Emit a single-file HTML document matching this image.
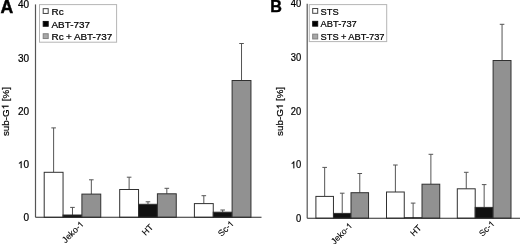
<!DOCTYPE html>
<html><head><meta charset="utf-8"><style>
html,body{margin:0;padding:0;background:#fff;}
body{width:520px;height:244px;overflow:hidden;}
text{stroke:#000;}
svg{display:block;font-family:"Liberation Sans", sans-serif;filter:grayscale(1) blur(0.35px);}
</style></head><body>
<svg width="520" height="244" viewBox="0 0 520 244">
<rect width="520" height="244" fill="#fff"/>
<text transform="translate(0.4,12.5) scale(1.0,1)" font-size="17.6" font-weight="bold" fill="#000" style="stroke-width:0.45px">A</text>
<g transform="translate(29.00,221.30)"><text x="0" y="0" font-size="10.0" text-anchor="end" fill="#000" style="stroke-width:0.22px">0</text></g>
<g transform="translate(29.00,168.08)"><text x="0" y="0" font-size="10.0" text-anchor="end" fill="#000" style="stroke-width:0.22px"><tspan style="fill:none;stroke:none">1</tspan>0</text><path d="M763 0H583V1098Q518 1039 418 980Q312 918 223 891V1058Q374 1126 486 1221Q597 1316 647 1409H763Z" transform="translate(-11.123,0) scale(0.004883,-0.004883)" fill="#000" stroke="#000" stroke-width="45.1"/></g>
<g transform="translate(29.00,114.85)"><text x="0" y="0" font-size="10.0" text-anchor="end" fill="#000" style="stroke-width:0.22px">20</text></g>
<g transform="translate(29.00,61.63)"><text x="0" y="0" font-size="10.0" text-anchor="end" fill="#000" style="stroke-width:0.22px">30</text></g>
<g transform="translate(29.00,8.40)"><text x="0" y="0" font-size="10.0" text-anchor="end" fill="#000" style="stroke-width:0.22px">40</text></g>
<g transform="translate(8.50,111.60) rotate(-90)"><text x="0" y="0" font-size="9.8" text-anchor="middle" fill="#000" style="stroke-width:0.22px">sub-G<tspan style="fill:none;stroke:none">1</tspan> [%]</text><path d="M763 0H583V1098Q518 1039 418 980Q312 918 223 891V1058Q374 1126 486 1221Q597 1316 647 1409H763Z" transform="translate(2.177,0) scale(0.004785,-0.004785)" fill="#000" stroke="#000" stroke-width="46.0"/></g>
<line x1="53.62" y1="127.90" x2="53.62" y2="172.30" stroke="#555555" stroke-width="1"/>
<line x1="51.33" y1="127.90" x2="55.92" y2="127.90" stroke="#555555" stroke-width="1"/>
<rect x="44.20" y="172.30" width="18.85" height="45.00" fill="#ffffff" stroke="#303030" stroke-width="1"/>
<line x1="72.48" y1="207.40" x2="72.48" y2="215.00" stroke="#555555" stroke-width="1"/>
<line x1="70.18" y1="207.40" x2="74.78" y2="207.40" stroke="#555555" stroke-width="1"/>
<rect x="63.05" y="215.00" width="18.85" height="2.30" fill="#111111" stroke="#303030" stroke-width="1"/>
<line x1="91.33" y1="179.80" x2="91.33" y2="194.10" stroke="#555555" stroke-width="1"/>
<line x1="89.03" y1="179.80" x2="93.62" y2="179.80" stroke="#555555" stroke-width="1"/>
<rect x="81.90" y="194.10" width="18.85" height="23.20" fill="#919191" stroke="#303030" stroke-width="1"/>
<line x1="129.12" y1="177.20" x2="129.12" y2="189.50" stroke="#555555" stroke-width="1"/>
<line x1="126.83" y1="177.20" x2="131.43" y2="177.20" stroke="#555555" stroke-width="1"/>
<rect x="119.70" y="189.50" width="18.85" height="27.80" fill="#ffffff" stroke="#303030" stroke-width="1"/>
<line x1="147.98" y1="201.80" x2="147.98" y2="204.30" stroke="#555555" stroke-width="1"/>
<line x1="145.68" y1="201.80" x2="150.28" y2="201.80" stroke="#555555" stroke-width="1"/>
<rect x="138.55" y="204.30" width="18.85" height="13.00" fill="#111111" stroke="#303030" stroke-width="1"/>
<line x1="166.82" y1="188.30" x2="166.82" y2="193.80" stroke="#555555" stroke-width="1"/>
<line x1="164.52" y1="188.30" x2="169.12" y2="188.30" stroke="#555555" stroke-width="1"/>
<rect x="157.40" y="193.80" width="18.85" height="23.50" fill="#919191" stroke="#303030" stroke-width="1"/>
<line x1="203.82" y1="195.70" x2="203.82" y2="203.60" stroke="#555555" stroke-width="1"/>
<line x1="201.52" y1="195.70" x2="206.12" y2="195.70" stroke="#555555" stroke-width="1"/>
<rect x="194.40" y="203.60" width="18.85" height="13.70" fill="#ffffff" stroke="#303030" stroke-width="1"/>
<line x1="222.68" y1="210.00" x2="222.68" y2="212.20" stroke="#555555" stroke-width="1"/>
<line x1="220.38" y1="210.00" x2="224.98" y2="210.00" stroke="#555555" stroke-width="1"/>
<rect x="213.25" y="212.20" width="18.85" height="5.10" fill="#111111" stroke="#303030" stroke-width="1"/>
<line x1="241.53" y1="43.50" x2="241.53" y2="80.50" stroke="#555555" stroke-width="1"/>
<line x1="239.23" y1="43.50" x2="243.83" y2="43.50" stroke="#555555" stroke-width="1"/>
<rect x="232.10" y="80.50" width="18.85" height="136.80" fill="#919191" stroke="#303030" stroke-width="1"/>
<line x1="35.5" y1="4.4" x2="35.5" y2="217.3" stroke="#555555" stroke-width="1.2"/>
<line x1="35.5" y1="217.3" x2="261.5" y2="217.3" stroke="#2a2a2a" stroke-width="1.05"/>
<rect x="39.5" y="4.6" width="77.10" height="37.60" fill="#fff" stroke="#b5b5b5" stroke-width="1"/>
<rect x="43.20" y="8.65" width="5.0" height="4.8" fill="#ffffff" stroke="#444" stroke-width="1"/>
<g transform="translate(51.50,14.75)"><text x="0" y="0" font-size="9.9" text-anchor="start" fill="#000" style="stroke-width:0.22px">Rc</text></g>
<rect x="43.20" y="21.45" width="5.0" height="4.8" fill="#000000" stroke="#111" stroke-width="1"/>
<g transform="translate(51.50,27.55)"><text x="0" y="0" font-size="9.9" text-anchor="start" fill="#000" style="stroke-width:0.22px">ABT-737</text></g>
<rect x="43.20" y="33.75" width="5.0" height="4.8" fill="#a8a8a8" stroke="#808080" stroke-width="1"/>
<g transform="translate(51.50,39.85)"><text x="0" y="0" font-size="9.9" text-anchor="start" fill="#000" style="stroke-width:0.22px" word-spacing="-0.2">Rc + ABT-737</text></g>
<g transform="translate(84.20,224.80) rotate(-45)"><text x="0" y="0" font-size="8.8" text-anchor="end" fill="#000" style="stroke-width:0.12px">Jeko-<tspan style="fill:none;stroke:none">1</tspan></text><path d="M763 0H583V1098Q518 1039 418 980Q312 918 223 891V1058Q374 1126 486 1221Q597 1316 647 1409H763Z" transform="translate(-4.894,0) scale(0.004297,-0.004297)" fill="#000" stroke="#000" stroke-width="27.9"/></g>
<g transform="translate(153.70,227.80) rotate(-45)"><text x="0" y="0" font-size="8.8" text-anchor="end" fill="#000" style="stroke-width:0.12px">HT</text></g>
<g transform="translate(234.30,224.30) rotate(-45)"><text x="0" y="0" font-size="8.8" text-anchor="end" fill="#000" style="stroke-width:0.12px">Sc-<tspan style="fill:none;stroke:none">1</tspan></text><path d="M763 0H583V1098Q518 1039 418 980Q312 918 223 891V1058Q374 1126 486 1221Q597 1316 647 1409H763Z" transform="translate(-4.894,0) scale(0.004297,-0.004297)" fill="#000" stroke="#000" stroke-width="27.9"/></g>
<text transform="translate(270.2,12.0) scale(0.94,1)" font-size="17.2" font-weight="bold" fill="#000" style="stroke-width:0.45px">B</text>
<g transform="translate(301.20,221.85) scale(0.94,1)"><text x="0" y="0" font-size="10.0" text-anchor="end" fill="#000" style="stroke-width:0.22px">0</text></g>
<g transform="translate(301.20,168.25) scale(0.94,1)"><text x="0" y="0" font-size="10.0" text-anchor="end" fill="#000" style="stroke-width:0.22px"><tspan style="fill:none;stroke:none">1</tspan>0</text><path d="M763 0H583V1098Q518 1039 418 980Q312 918 223 891V1058Q374 1126 486 1221Q597 1316 647 1409H763Z" transform="translate(-11.123,0) scale(0.004883,-0.004883)" fill="#000" stroke="#000" stroke-width="45.1"/></g>
<g transform="translate(301.20,114.65) scale(0.94,1)"><text x="0" y="0" font-size="10.0" text-anchor="end" fill="#000" style="stroke-width:0.22px">20</text></g>
<g transform="translate(301.20,61.05) scale(0.94,1)"><text x="0" y="0" font-size="10.0" text-anchor="end" fill="#000" style="stroke-width:0.22px">30</text></g>
<g transform="translate(301.20,7.45) scale(0.94,1)"><text x="0" y="0" font-size="10.0" text-anchor="end" fill="#000" style="stroke-width:0.22px">40</text></g>
<g transform="translate(282.90,111.40) scale(0.94,1) rotate(-90)"><text x="0" y="0" font-size="9.8" text-anchor="middle" fill="#000" style="stroke-width:0.22px">sub-G<tspan style="fill:none;stroke:none">1</tspan> [%]</text><path d="M763 0H583V1098Q518 1039 418 980Q312 918 223 891V1058Q374 1126 486 1221Q597 1316 647 1409H763Z" transform="translate(2.177,0) scale(0.004785,-0.004785)" fill="#000" stroke="#000" stroke-width="46.0"/></g>
<line x1="324.67" y1="167.40" x2="324.67" y2="196.40" stroke="#555555" stroke-width="1"/>
<line x1="322.37" y1="167.40" x2="326.97" y2="167.40" stroke="#555555" stroke-width="1"/>
<rect x="315.90" y="196.40" width="17.55" height="21.80" fill="#ffffff" stroke="#303030" stroke-width="1"/>
<line x1="342.23" y1="193.20" x2="342.23" y2="213.40" stroke="#555555" stroke-width="1"/>
<line x1="339.93" y1="193.20" x2="344.53" y2="193.20" stroke="#555555" stroke-width="1"/>
<rect x="333.45" y="213.40" width="17.55" height="4.80" fill="#111111" stroke="#303030" stroke-width="1"/>
<line x1="359.77" y1="173.50" x2="359.77" y2="192.70" stroke="#555555" stroke-width="1"/>
<line x1="357.47" y1="173.50" x2="362.07" y2="173.50" stroke="#555555" stroke-width="1"/>
<rect x="351.00" y="192.70" width="17.55" height="25.50" fill="#919191" stroke="#303030" stroke-width="1"/>
<line x1="395.38" y1="165.00" x2="395.38" y2="192.00" stroke="#555555" stroke-width="1"/>
<line x1="393.07" y1="165.00" x2="397.68" y2="165.00" stroke="#555555" stroke-width="1"/>
<rect x="386.50" y="192.00" width="17.75" height="26.20" fill="#ffffff" stroke="#303030" stroke-width="1"/>
<line x1="413.12" y1="203.10" x2="413.12" y2="218.20" stroke="#555555" stroke-width="1"/>
<line x1="410.82" y1="203.10" x2="415.43" y2="203.10" stroke="#555555" stroke-width="1"/>
<line x1="404.25" y1="217.90" x2="422.00" y2="217.90" stroke="#000" stroke-width="1.2"/>
<line x1="430.88" y1="154.30" x2="430.88" y2="184.20" stroke="#555555" stroke-width="1"/>
<line x1="428.57" y1="154.30" x2="433.18" y2="154.30" stroke="#555555" stroke-width="1"/>
<rect x="422.00" y="184.20" width="17.75" height="34.00" fill="#919191" stroke="#303030" stroke-width="1"/>
<line x1="466.25" y1="172.30" x2="466.25" y2="188.80" stroke="#555555" stroke-width="1"/>
<line x1="463.95" y1="172.30" x2="468.55" y2="172.30" stroke="#555555" stroke-width="1"/>
<rect x="457.30" y="188.80" width="17.90" height="29.40" fill="#ffffff" stroke="#303030" stroke-width="1"/>
<line x1="484.15" y1="184.60" x2="484.15" y2="207.40" stroke="#555555" stroke-width="1"/>
<line x1="481.85" y1="184.60" x2="486.45" y2="184.60" stroke="#555555" stroke-width="1"/>
<rect x="475.20" y="207.40" width="17.90" height="10.80" fill="#111111" stroke="#303030" stroke-width="1"/>
<line x1="502.05" y1="24.30" x2="502.05" y2="60.50" stroke="#555555" stroke-width="1"/>
<line x1="499.75" y1="24.30" x2="504.35" y2="24.30" stroke="#555555" stroke-width="1"/>
<rect x="493.10" y="60.50" width="17.90" height="157.70" fill="#919191" stroke="#303030" stroke-width="1"/>
<line x1="307.2" y1="3.8" x2="307.2" y2="218.2" stroke="#555555" stroke-width="1.2"/>
<line x1="307.2" y1="218.2" x2="520" y2="218.2" stroke="#2a2a2a" stroke-width="1.05"/>
<rect x="309.3" y="4.6" width="77.40" height="37.00" fill="#fff" stroke="#b5b5b5" stroke-width="1"/>
<rect x="312.70" y="8.50" width="5.0" height="4.8" fill="#ffffff" stroke="#444" stroke-width="1"/>
<g transform="translate(320.60,14.60) scale(0.94,1)"><text x="0" y="0" font-size="9.9" text-anchor="start" fill="#000" style="stroke-width:0.22px">STS</text></g>
<rect x="312.70" y="21.35" width="5.0" height="4.8" fill="#000000" stroke="#111" stroke-width="1"/>
<g transform="translate(320.60,27.45) scale(0.94,1)"><text x="0" y="0" font-size="9.9" text-anchor="start" fill="#000" style="stroke-width:0.22px">ABT-737</text></g>
<rect x="312.70" y="34.15" width="5.0" height="4.8" fill="#a8a8a8" stroke="#808080" stroke-width="1"/>
<g transform="translate(320.60,40.25) scale(0.94,1)"><text x="0" y="0" font-size="9.9" text-anchor="start" fill="#000" style="stroke-width:0.22px" word-spacing="-0.2">STS + ABT-737</text></g>
<g transform="translate(352.70,226.30) scale(0.97,1) rotate(-45)"><text x="0" y="0" font-size="8.8" text-anchor="end" fill="#000" style="stroke-width:0.12px">Jeko-<tspan style="fill:none;stroke:none">1</tspan></text><path d="M763 0H583V1098Q518 1039 418 980Q312 918 223 891V1058Q374 1126 486 1221Q597 1316 647 1409H763Z" transform="translate(-4.894,0) scale(0.004297,-0.004297)" fill="#000" stroke="#000" stroke-width="27.9"/></g>
<g transform="translate(421.90,228.50) scale(0.97,1) rotate(-45)"><text x="0" y="0" font-size="8.8" text-anchor="end" fill="#000" style="stroke-width:0.12px">HT</text></g>
<g transform="translate(495.00,224.30) scale(0.97,1) rotate(-45)"><text x="0" y="0" font-size="8.8" text-anchor="end" fill="#000" style="stroke-width:0.12px">Sc-<tspan style="fill:none;stroke:none">1</tspan></text><path d="M763 0H583V1098Q518 1039 418 980Q312 918 223 891V1058Q374 1126 486 1221Q597 1316 647 1409H763Z" transform="translate(-4.894,0) scale(0.004297,-0.004297)" fill="#000" stroke="#000" stroke-width="27.9"/></g>
</svg>
</body></html>
